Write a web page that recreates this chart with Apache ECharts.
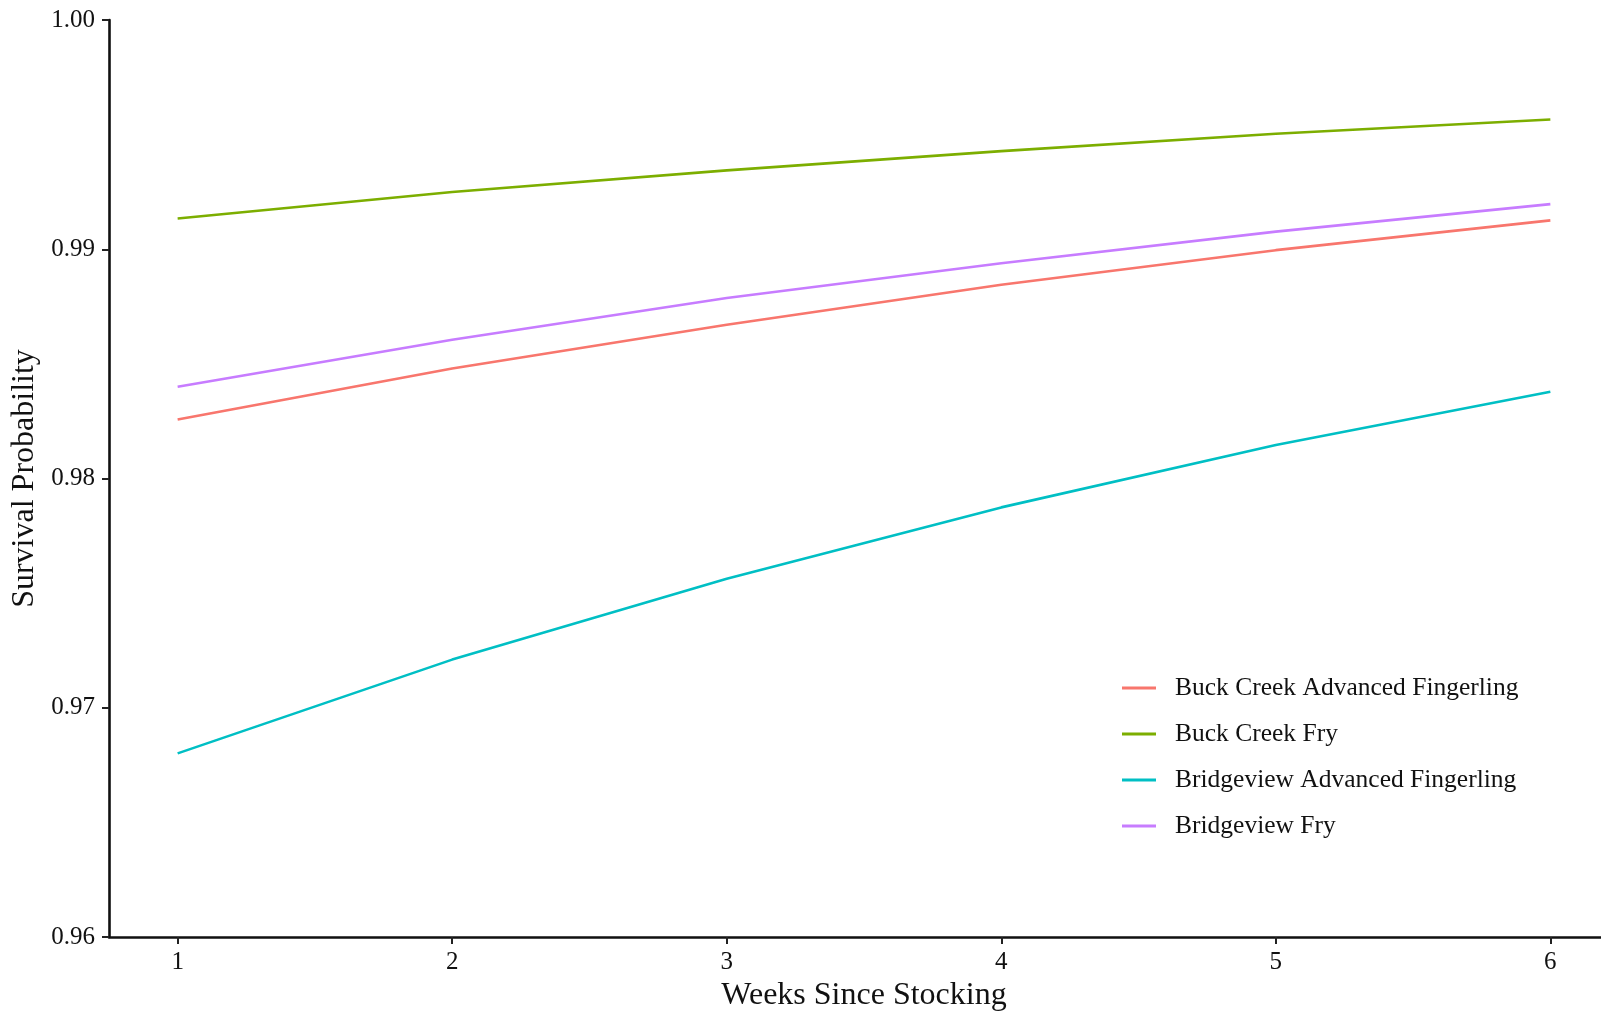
<!DOCTYPE html>
<html>
<head>
<meta charset="utf-8">
<title>Survival Probability by Weeks Since Stocking</title>
<script src="https://cdn.jsdelivr.net/npm/echarts@6/dist/echarts.min.js"></script>
<style>
  html, body { margin: 0; padding: 0; background: #fff; }
  #chart { width: 1601px; height: 1011px; }
</style>
</head>
<body>
<div id="chart"></div>
<script>
// Weeks since stocking (x values shared by every group)
const weeks = [1, 2, 3, 4, 5, 6];

// Predicted weekly survival probability per hatchery / stocking size
const buckCreekAdvFingerling = [0.98257, 0.98480, 0.98671, 0.98845, 0.98996, 0.99126];
const buckCreekFry           = [0.99134, 0.99250, 0.99344, 0.99428, 0.99504, 0.99566];
const bridgeviewAdvFingerling = [0.96801, 0.97210, 0.97563, 0.97874, 0.98146, 0.98378];
const bridgeviewFry          = [0.98400, 0.98605, 0.98787, 0.98939, 0.99077, 0.99197];

const seriesNames = [
  'Buck Creek Advanced Fingerling',
  'Buck Creek Fry',
  'Bridgeview Advanced Fingerling',
  'Bridgeview Fry'
];
const seriesValues = [buckCreekAdvFingerling, buckCreekFry, bridgeviewAdvFingerling, bridgeviewFry];
const seriesColors = ['#F8766D', '#7CAE00', '#00BFC4', '#C77CFF'];

// Axis ticks
const xTicks = [1, 2, 3, 4, 5, 6];
const yTicks = [0.96, 0.97, 0.98, 0.99, 1.00];

const FONT = "'Liberation Serif', 'Times New Roman', serif";
const INK = '#111111';

const chart = echarts.init(document.getElementById('chart'), null, { renderer: 'canvas' });

const series = seriesNames.map((name, i) => ({
  name: name,
  type: 'line',
  data: weeks.map((w, j) => [w, seriesValues[i][j]]),
  showSymbol: false,
  symbol: 'none',
  smooth: false,
  lineStyle: { color: seriesColors[i], width: 2.6 },
  itemStyle: { color: seriesColors[i] },
  emphasis: { disabled: true },
  animation: false
}));

chart.setOption({
  backgroundColor: '#ffffff',
  animation: false,
  textStyle: { fontFamily: FONT, color: INK },
  // the panel runs a little past the right edge of the canvas
  grid: { left: 109, width: 1510, top: 20, bottom: 74, containLabel: false, outerBoundsMode: 'none' },
  xAxis: {
    type: 'value',
    min: 0.75,
    max: 6.25,
    name: 'Weeks Since Stocking',
    nameLocation: 'middle',
    nameGap: 36,
    nameTextStyle: { fontFamily: FONT, fontSize: 32, color: INK },
    axisLine: { show: true, onZero: false, lineStyle: { color: '#111', width: 2.6 } },
    axisTick: { show: true, length: 7, customValues: xTicks, lineStyle: { color: '#222', width: 2 } },
    axisLabel: {
      show: true, margin: 13, customValues: xTicks,
      fontFamily: FONT, fontSize: 25, color: INK,
      formatter: v => String(v)
    },
    splitLine: { show: false }
  },
  yAxis: {
    type: 'value',
    min: 0.96,
    max: 1.00,
    interval: 0.01,
    name: 'Survival Probability',
    nameLocation: 'middle',
    nameGap: 63,
    nameTextStyle: { fontFamily: FONT, fontSize: 32, color: INK },
    axisLine: { show: true, onZero: false, lineStyle: { color: '#111', width: 2.6 } },
    axisTick: { show: true, length: 7, lineStyle: { color: '#222', width: 2 } },
    axisLabel: {
      show: true, margin: 14,
      fontFamily: FONT, fontSize: 25, color: INK,
      formatter: v => {
        const t = yTicks.find(y => Math.abs(y - v) < 1e-9);
        return (t !== undefined ? t : v).toFixed(2);
      }
    },
    splitLine: { show: false }
  },
  legend: {
    orient: 'vertical',
    left: 1117,
    top: 670,
    icon: 'rect',
    itemWidth: 34,
    itemHeight: 3,
    itemGap: 20,
    selectedMode: false,
    data: seriesNames,
    textStyle: { fontFamily: FONT, fontSize: 25.5, color: INK, lineHeight: 24, padding: [0, 0, 0, 14] }
  },
  series: series
});
</script>
</body>
</html>
